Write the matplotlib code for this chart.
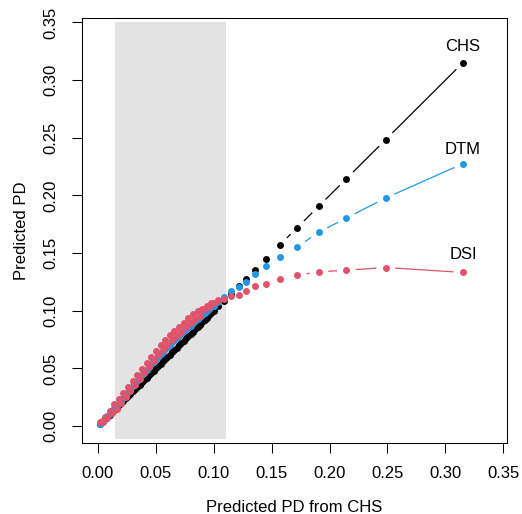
import numpy as np
import matplotlib
matplotlib.use('Agg')
import matplotlib.pyplot as plt
from matplotlib.patches import Rectangle

plt.rcParams['font.family'] = ['Liberation Sans', 'DejaVu Sans']

# predicted PD from CHS (x) and from each model (y)
chs = [0.002, 0.004, 0.006, 0.008, 0.010, 0.012, 0.014, 0.016, 0.018, 0.020,
       0.022, 0.024, 0.026, 0.028, 0.030, 0.032, 0.034, 0.036, 0.038, 0.040,
       0.042, 0.044, 0.046, 0.048, 0.050, 0.052, 0.054, 0.056, 0.058, 0.060,
       0.062, 0.064, 0.066, 0.068, 0.070, 0.072, 0.074, 0.076, 0.078, 0.080,
       0.082, 0.084, 0.086, 0.088, 0.090, 0.092, 0.094, 0.096, 0.098, 0.100,
       0.1038, 0.1088, 0.1149, 0.1218, 0.1278, 0.1353, 0.1453, 0.1574, 0.1721,
       0.1908, 0.2145, 0.2485, 0.3152]

dtm = [0.0020, 0.0041, 0.0062, 0.0085, 0.0108, 0.0130, 0.0153, 0.0175, 0.0199, 0.0224,
       0.0247, 0.0271, 0.0295, 0.0319, 0.0345, 0.0368, 0.0393, 0.0416, 0.0440, 0.0464,
       0.0487, 0.0510, 0.0534, 0.0557, 0.0580, 0.0602, 0.0623, 0.0644, 0.0665, 0.0684,
       0.0705, 0.0725, 0.0746, 0.0765, 0.0784, 0.0804, 0.0821, 0.0840, 0.0858, 0.0872,
       0.0892, 0.0911, 0.0929, 0.0946, 0.0963, 0.0980, 0.0996, 0.1013, 0.1029, 0.1040,
       0.1075, 0.1120, 0.1172, 0.1202, 0.1250, 0.1323, 0.1386, 0.1467, 0.1554,
       0.1681, 0.1805, 0.1978, 0.2276]

dsi = [0.0031, 0.0033, 0.0076, 0.0068, 0.0130, 0.0113, 0.0187, 0.0151, 0.0235, 0.0200,
       0.0285, 0.0251, 0.0337, 0.0303, 0.0390, 0.0354, 0.0441, 0.0406, 0.0493, 0.0458,
       0.0547, 0.0511, 0.0601, 0.0565, 0.0650, 0.0615, 0.0700, 0.0659, 0.0743, 0.0702,
       0.0786, 0.0744, 0.0822, 0.0779, 0.0856, 0.0820, 0.0896, 0.0859, 0.0935, 0.0898,
       0.0973, 0.0928, 0.1002, 0.0956, 0.1018, 0.1011, 0.1044, 0.1036, 0.1068, 0.1070,
       0.1095, 0.1106, 0.1127, 0.1135, 0.1175, 0.1213, 0.1236, 0.1276, 0.1308,
       0.1337, 0.1352, 0.1375, 0.1332]

# shaded range of CHS PD
shade_lo = 0.0147
shade_hi = 0.1103

fig = plt.figure(figsize=(5.22, 5.14), dpi=100)
ax = fig.add_axes([82/522, 71/514, 425/522, 425/514])
ax.set_xlim(-0.0138, 0.3532)
ax.set_ylim(-0.0147, 0.3539)

ax.add_patch(Rectangle((shade_lo, -0.011), shade_hi - shade_lo, 0.361,
                       facecolor='#E3E3E3', edgecolor='none', zorder=0))

series = [('CHS', chs, '#000000', 16), ('DTM', dtm, '#2297E6', 14), ('DSI', dsi, '#DF536B', 18)]

# R type="b": lines broken around each point
gap = 10.0
for name, ys, col, off in series:
    pts = ax.transData.transform(np.column_stack([chs, ys]))
    inv = ax.transData.inverted()
    for p0, p1 in zip(pts[:-1], pts[1:]):
        d = p1 - p0
        L = np.hypot(*d)
        if L > 2 * gap:
            u = d / L
            a = inv.transform(p0 + gap * u)
            b = inv.transform(p1 - gap * u)
            ax.plot([a[0], b[0]], [a[1], b[1]], color=col, lw=0.9, zorder=2)
    ax.plot(chs, ys, 'o', color=col, ms=5.0, mec='none', zorder=3)
    ax.annotate(name, (chs[-1], ys[-1]), xytext=(0, off * 0.72), textcoords='offset points',
                ha='center', va='center', fontsize=12)

ticks = np.arange(0, 0.351, 0.05)
ax.set_xticks(ticks)
ax.set_yticks(ticks)
ax.set_xticklabels(['%.2f' % t for t in ticks])
ax.set_yticklabels(['%.2f' % t for t in ticks], rotation=90, va='center')
ax.tick_params(length=7.2, width=0.75, labelsize=12, direction='out')
ax.tick_params(axis='x', pad=9)
ax.tick_params(axis='y', pad=10)
for s in ax.spines.values():
    s.set_linewidth(0.75)

ax.set_xlabel('Predicted PD from CHS', fontsize=12, labelpad=14)
ax.set_ylabel('Predicted PD', fontsize=12, labelpad=10)

fig.savefig('out.png', dpi=100)
